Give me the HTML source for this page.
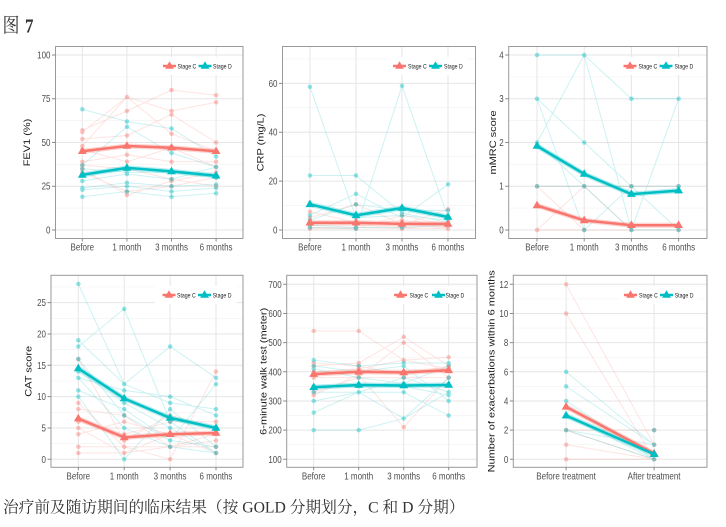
<!DOCTYPE html>
<html><head><meta charset="utf-8"><style>
html,body{margin:0;padding:0;background:#fff;}
svg{display:block;}
.tk{font-family:"Liberation Sans",sans-serif;font-size:10px;fill:#4d4d4d;}
.at{font-family:"Liberation Sans",sans-serif;font-size:11px;fill:#1a1a1a;}
.lg{font-family:"Liberation Sans",sans-serif;font-size:6.5px;fill:#222;}
.gM{stroke:#e6e6e6;stroke-width:1;fill:none;}
.gm{stroke:#f2f2f2;stroke-width:0.6;fill:none;}
.bd{fill:none;stroke:#9a9a9a;stroke-width:1;}
.tkl{stroke:#8a8a8a;stroke-width:1;}
.lc{fill:none;stroke:#F8766D;stroke-opacity:0.2;stroke-width:1;vector-effect:non-scaling-stroke;}
.ld{fill:none;stroke:#00BFC4;stroke-opacity:0.2;stroke-width:1;vector-effect:non-scaling-stroke;}
.pc{fill:none;stroke:#F8766D;stroke-opacity:0.42;stroke-width:4.5;stroke-linecap:round;vector-effect:non-scaling-stroke;}
.pd{fill:none;stroke:#00BFC4;stroke-opacity:0.42;stroke-width:4.5;stroke-linecap:round;vector-effect:non-scaling-stroke;}
.mc{fill:none;stroke:#F8766D;stroke-width:2.5;marker-start:url(#tc);marker-mid:url(#tc);marker-end:url(#tc);}
.md{fill:none;stroke:#00BFC4;stroke-width:2.5;marker-start:url(#td);marker-mid:url(#td);marker-end:url(#td);}
.hc{fill:none;stroke:#F8766D;stroke-opacity:0.3;stroke-width:5;}
.hd{fill:none;stroke:#00BFC4;stroke-opacity:0.3;stroke-width:5;}
.kc{fill:none;stroke:#F8766D;stroke-width:2.5;marker-mid:url(#tc);}
.kd{fill:none;stroke:#00BFC4;stroke-width:2.5;marker-mid:url(#td);}
</style></head><body>
<svg width="726" height="527" viewBox="0 0 726 527" xmlns="http://www.w3.org/2000/svg">
<defs>
<marker id="tc" viewBox="-6 -6 12 12" markerWidth="12" markerHeight="12" refX="0" refY="0" markerUnits="userSpaceOnUse" overflow="visible"><path d="M0,-4.8L4.4,2.8L-4.4,2.8Z" fill="#F8766D"/></marker>
<marker id="td" viewBox="-6 -6 12 12" markerWidth="12" markerHeight="12" refX="0" refY="0" markerUnits="userSpaceOnUse" overflow="visible"><path d="M0,-4.8L4.4,2.8L-4.4,2.8Z" fill="#00BFC4"/></marker>
</defs>
<rect width="726" height="527" fill="#fff"/>

<!-- Title -->
<text transform="translate(2.5,32) scale(0.85,1)" font-family="'Noto Serif CJK SC','Noto Sans CJK SC',serif" font-size="20" fill="#333">图</text>
<text transform="translate(25,32.5) scale(0.85,1)" font-family="'Liberation Serif',serif" font-weight="bold" font-size="20" fill="#333">7</text>

<!-- ============ PANEL 1 FEV1 ============ -->
<g>
<path class="gm" d="M55.5 208.1H243M55.5 164.4H243M55.5 120.6H243M55.5 76.9H243"/>
<path class="gM" d="M55.5 230H243M55.5 186.25H243M55.5 142.5H243M55.5 98.75H243M55.5 55H243M82.3 46.5V238.5M126.9 46.5V238.5M171.5 46.5V238.5M216.1 46.5V238.5"/>
<g transform="matrix(44.6,0,0,-1.75,82.3,230)">
<path class="lc" d="M0 56L1 76L2 68L3 73M0 57L1 68L2 80L3 77M0 52L1 54L2 66L3 50M0 48L1 76L2 55L3 45M0 39L1 43L2 39L3 39M0 46L1 39L2 47L3 36M0 37L1 35L2 29L3 25M0 33L1 22L2 25L3 30M0 35L1 20L2 28L3 33"/>
<path class="pc" d="M0 56h0.001M1 76h0.001M2 68h0.001M3 73h0.001M0 57h0.001M1 68h0.001M2 80h0.001M3 77h0.001M0 52h0.001M1 54h0.001M2 66h0.001M3 50h0.001M0 48h0.001M2 55h0.001M3 45h0.001M0 39h0.001M1 43h0.001M2 39h0.001M3 39h0.001M0 46h0.001M1 39h0.001M2 47h0.001M3 36h0.001M0 37h0.001M1 35h0.001M2 29h0.001M3 25h0.001M0 33h0.001M1 22h0.001M2 25h0.001M3 30h0.001M0 35h0.001M1 20h0.001M2 28h0.001M3 33h0.001"/>
<path class="ld" d="M0 69L1 62L2 58L3 42M0 37L1 59L2 44L3 36M0 35L1 33L2 33L3 30M0 28L1 32L2 29L3 36M0 24L1 27L2 25L3 26M0 23L1 25L2 22L3 24M0 19L1 22L2 19L3 21"/>
<path class="pd" d="M0 69h0.001M1 62h0.001M2 58h0.001M3 42h0.001M0 37h0.001M1 59h0.001M2 44h0.001M3 36h0.001M0 35h0.001M1 33h0.001M2 33h0.001M3 30h0.001M0 28h0.001M1 32h0.001M2 29h0.001M0 24h0.001M1 27h0.001M2 25h0.001M3 26h0.001M0 23h0.001M1 25h0.001M2 22h0.001M3 24h0.001M0 19h0.001M1 22h0.001M2 19h0.001M3 21h0.001"/>
</g>
<polyline class="hd" points="82.3,174.9 126.9,167.9 171.5,171.4 216.1,175.75"/>
<polyline class="hc" points="82.3,151.25 126.9,146 171.5,147.75 216.1,151.25"/>
<polyline class="mc" points="82.3,151.25 126.9,146 171.5,147.75 216.1,151.25"/>
<polyline class="md" points="82.3,174.9 126.9,167.9 171.5,171.4 216.1,175.75"/>
<rect x="158" y="57" width="78" height="18" fill="#fff"/>
<polyline class="kc" points="163,66 169.5,66 176,66"/>
<polyline class="kd" points="198.5,66 205,66 211.5,66"/>
<rect class="bd" x="55.5" y="46.5" width="187.5" height="192"/>
<path class="tkl" d="M52 230H55.5M52 186.25H55.5M52 142.5H55.5M52 98.75H55.5M52 55H55.5M82.3 238.5V241.5M126.9 238.5V241.5M171.5 238.5V241.5M216.1 238.5V241.5"/>
</g>

<!-- ============ PANEL 2 CRP ============ -->
<g>
<path class="gm" d="M282.5 205.6H475.5M282.5 156.7H475.5M282.5 107.8H475.5M282.5 58.9H475.5"/>
<path class="gM" d="M282.5 230H475.5M282.5 181.1H475.5M282.5 132.2H475.5M282.5 83.4H475.5M309.9 46.5V238.5M356 46.5V238.5M402 46.5V238.5M448 46.5V238.5"/>
<g transform="matrix(46.05,0,0,-2.444,309.9,230)">
<path class="lc" d="M0 7.5L1 3L2 2L3 8.5M0 5L1 10.5L2 2.5L3 1M0 2L1 2L2 1L3 0.5M0 1L1 1L2 0.5L3 1M0 0.5L1 0.5L2 6L3 2M0 3L1 2L2 4L3 2"/>
<path class="pc" d="M0 7.5h0.001M1 3h0.001M2 2h0.001M3 8.5h0.001M0 5h0.001M1 10.5h0.001M2 2.5h0.001M3 1h0.001M0 2h0.001M1 2h0.001M2 1h0.001M3 0.5h0.001M0 1h0.001M1 1h0.001M2 0.5h0.001M0 0.5h0.001M1 0.5h0.001M2 6h0.001M3 2h0.001M0 3h0.001M2 4h0.001"/>
<path class="ld" d="M0 58.6L1 5L2 6L3 4M0 1L1 0.5L2 59L3 5M0 22.3L1 22.3L2 7L3 3M0 6L1 14.8L2 5L3 18.7M0 4L1 10.5L2 8L3 8M0 2L1 1L2 1L3 2"/>
<path class="pd" d="M0 58.6h0.001M1 5h0.001M2 6h0.001M3 4h0.001M0 1h0.001M1 0.5h0.001M2 59h0.001M3 5h0.001M0 22.3h0.001M1 22.3h0.001M2 7h0.001M3 3h0.001M0 6h0.001M1 14.8h0.001M3 18.7h0.001M0 4h0.001M1 10.5h0.001M2 8h0.001M3 8h0.001M0 2h0.001M1 1h0.001M2 1h0.001M3 2h0.001"/>
</g>
<polyline class="hd" points="309.9,204.3 356,215.3 402,208 448,217"/>
<polyline class="hc" points="309.9,222.7 356,222.7 402,223.9 448,223.9"/>
<polyline class="mc" points="309.9,222.7 356,222.7 402,223.9 448,223.9"/>
<polyline class="md" points="309.9,204.3 356,215.3 402,208 448,217"/>
<rect x="388" y="57" width="79" height="18" fill="#fff"/>
<polyline class="kc" points="393,66 399.5,66 406,66"/>
<polyline class="kd" points="429,66 435.5,66 442,66"/>
<rect class="bd" x="282.5" y="46.5" width="193" height="192"/>
<path class="tkl" d="M279 230H282.5M279 181.1H282.5M279 132.2H282.5M279 83.4H282.5M309.9 238.5V241.5M356 238.5V241.5M402 238.5V241.5M448 238.5V241.5"/>
</g>

<!-- ============ PANEL 3 mMRC ============ -->
<g>
<path class="gm" d="M508.7 208.1H707M508.7 164.4H707M508.7 120.6H707M508.7 76.9H707"/>
<path class="gM" d="M508.7 230H707M508.7 186.25H707M508.7 142.5H707M508.7 98.75H707M508.7 55H707M537 46.5V238.5M584.2 46.5V238.5M631.4 46.5V238.5M678.6 46.5V238.5"/>
<g transform="matrix(47.2,0,0,-43.75,537,230)">
<path class="lc" d="M0 1L1 0L2 0L3 0M0 1L1 1L2 0L3 0M0 0L1 1L2 1L3 1M0 0L1 0L2 0L3 0"/>
<path class="pc" d="M0 1h0.001M1 0h0.001M2 0h0.001M3 0h0.001M1 1h0.001M0 0h0.001M2 1h0.001M3 1h0.001"/>
<path class="ld" d="M0 4L1 4L2 3L3 3M0 3L1 2L2 1L3 0M0 3L1 0L2 1L3 1M0 2L1 1L2 1L3 1M0 2L1 4L2 0L3 0M0 1L1 1L2 0L3 3"/>
<path class="pd" d="M0 4h0.001M1 4h0.001M2 3h0.001M3 3h0.001M0 3h0.001M1 2h0.001M2 1h0.001M3 0h0.001M1 0h0.001M3 1h0.001M0 2h0.001M1 1h0.001M2 0h0.001M0 1h0.001"/>
</g>
<polyline class="hd" points="537,146 584.2,174 631.4,194.1 678.6,190.6"/>
<polyline class="hc" points="537,205.5 584.2,220.4 631.4,225.2 678.6,225.2"/>
<polyline class="mc" points="537,205.5 584.2,220.4 631.4,225.2 678.6,225.2"/>
<polyline class="md" points="537,146 584.2,174 631.4,194.1 678.6,190.6"/>
<rect x="618.5" y="57" width="78.5" height="18" fill="#fff"/>
<polyline class="kc" points="623.5,66 630,66 636.5,66"/>
<polyline class="kd" points="659.5,66 666,66 672.5,66"/>
<rect class="bd" x="508.7" y="46.5" width="198.3" height="192"/>
<path class="tkl" d="M505.2 230H508.7M505.2 186.25H508.7M505.2 142.5H508.7M505.2 98.75H508.7M505.2 55H508.7M537 238.5V241.5M584.2 238.5V241.5M631.4 238.5V241.5M678.6 238.5V241.5"/>
</g>

<!-- ============ PANEL 4 CAT ============ -->
<g>
<path class="gm" d="M51 443.6H243M51 412.3H243M51 381H243M51 349.6H243M51 318.3H243M51 287H243"/>
<path class="gM" d="M51 459.3H243M51 428H243M51 396.6H243M51 365.3H243M51 334H243M51 302.6H243M78.3 275.3V467.3M124.2 275.3V467.3M170.1 275.3V467.3M216 275.3V467.3"/>
<g transform="matrix(45.9,0,0,-6.267,78.3,459.3)">
<path class="lc" d="M0 9L1 2L2 0L3 14M0 8L1 7L2 2L3 3M0 6L1 4L2 6L3 6M0 5L1 1L2 2L3 4M0 4L1 6L2 4L3 1M0 2L1 2L2 2L3 2M0 1L1 1L2 4L3 1M0 16L1 3L2 7L3 5"/>
<path class="pc" d="M0 9h0.001M1 2h0.001M2 0h0.001M3 14h0.001M0 8h0.001M1 7h0.001M2 2h0.001M3 3h0.001M0 6h0.001M1 4h0.001M2 6h0.001M3 6h0.001M0 5h0.001M1 1h0.001M3 4h0.001M0 4h0.001M1 6h0.001M2 4h0.001M3 1h0.001M0 2h0.001M3 2h0.001M0 1h0.001M0 16h0.001M1 3h0.001M2 7h0.001M3 5h0.001"/>
<path class="ld" d="M0 28L1 12L2 9L3 8M0 18L1 24L2 6L3 1M0 19L1 12L2 18L3 13M0 13L1 11L2 10L3 7M0 11L1 8L2 3L3 12M0 10L1 0L2 8L3 2M0 16L1 7L2 3L3 2M0 14L1 9L2 5L3 1M0 13L1 5L2 2L3 1"/>
<path class="pd" d="M0 28h0.001M1 12h0.001M2 9h0.001M3 8h0.001M0 18h0.001M1 24h0.001M2 6h0.001M3 1h0.001M0 19h0.001M2 18h0.001M3 13h0.001M0 13h0.001M1 11h0.001M2 10h0.001M3 7h0.001M0 11h0.001M1 8h0.001M2 3h0.001M3 12h0.001M0 10h0.001M1 0h0.001M2 8h0.001M3 2h0.001M0 16h0.001M1 7h0.001M0 14h0.001M1 9h0.001M2 5h0.001M1 5h0.001M2 2h0.001"/>
</g>
<polyline class="hd" points="78.3,368.4 124.2,398.5 170.1,417.9 216,428"/>
<polyline class="hc" points="78.3,418.6 124.2,437.4 170.1,434.2 216,433"/>
<polyline class="mc" points="78.3,418.6 124.2,437.4 170.1,434.2 216,433"/>
<polyline class="md" points="78.3,368.4 124.2,398.5 170.1,417.9 216,428"/>
<rect x="155" y="286" width="81.5" height="18" fill="#fff"/>
<polyline class="kc" points="162.5,295 169,295 175.5,295"/>
<polyline class="kd" points="198,295 204.5,295 211,295"/>
<rect class="bd" x="51" y="275.3" width="192" height="192"/>
<path class="tkl" d="M47.5 459.3H51M47.5 428H51M47.5 396.6H51M47.5 365.3H51M47.5 334H51M47.5 302.6H51M78.3 467.3V470.3M124.2 467.3V470.3M170.1 467.3V470.3M216 467.3V470.3"/>
</g>

<!-- ============ PANEL 5 6MWT ============ -->
<g>
<path class="gm" d="M286.7 444.7H477M286.7 415.6H477M286.7 386.4H477M286.7 357.2H477M286.7 328.1H477M286.7 298.9H477"/>
<path class="gM" d="M286.7 459.3H477M286.7 430.1H477M286.7 401H477M286.7 371.8H477M286.7 342.6H477M286.7 313.5H477M286.7 284.3H477M313.7 275.3V467.3M358.7 275.3V467.3M403.7 275.3V467.3M448.7 275.3V467.3"/>
<g transform="matrix(45,0,0,-0.29167,313.7,488.47)">
<path class="lc" d="M0 540L1 540L2 440L3 450M0 420L1 430L2 520L3 420M0 380L1 380L2 500L3 380M0 320L1 390L2 210L3 380M0 400L1 410L2 440L3 410M0 330L1 380L2 380L3 380M0 430L1 420L2 390L3 420"/>
<path class="pc" d="M0 540h0.001M1 540h0.001M2 440h0.001M3 450h0.001M0 420h0.001M1 430h0.001M2 520h0.001M3 420h0.001M0 380h0.001M1 380h0.001M2 500h0.001M3 380h0.001M0 320h0.001M1 390h0.001M2 210h0.001M0 400h0.001M1 410h0.001M3 410h0.001M0 330h0.001M2 380h0.001M0 430h0.001M1 420h0.001M2 390h0.001"/>
<path class="ld" d="M0 440L1 420L2 430L3 430M0 420L1 400L2 420L3 300M0 300L1 330L2 330L3 250M0 260L1 330L2 240L3 380M0 200L1 200L2 240L3 330M0 350L1 350L2 350L3 320M0 330L1 330L2 380L3 330M0 410L1 380L2 360L3 420"/>
<path class="pd" d="M0 440h0.001M1 420h0.001M2 430h0.001M3 430h0.001M0 420h0.001M1 400h0.001M2 420h0.001M3 300h0.001M0 300h0.001M1 330h0.001M2 330h0.001M3 250h0.001M0 260h0.001M2 240h0.001M3 380h0.001M0 200h0.001M1 200h0.001M3 330h0.001M0 350h0.001M1 350h0.001M2 350h0.001M3 320h0.001M0 330h0.001M2 380h0.001M0 410h0.001M1 380h0.001M2 360h0.001M3 420h0.001"/>
</g>
<polyline class="hd" points="313.7,387.3 358.7,385 403.7,385.5 448.7,385"/>
<polyline class="hc" points="313.7,374.1 358.7,371.8 403.7,372.4 448.7,370.3"/>
<polyline class="mc" points="313.7,374.1 358.7,371.8 403.7,372.4 448.7,370.3"/>
<polyline class="md" points="313.7,387.3 358.7,385 403.7,385.5 448.7,385"/>
<rect x="389" y="286" width="79" height="18" fill="#fff"/>
<polyline class="kc" points="394,295 400.5,295 407,295"/>
<polyline class="kd" points="432,295 438.5,295 445,295"/>
<rect class="bd" x="286.7" y="275.3" width="190.3" height="192"/>
<path class="tkl" d="M283.2 459.3H286.7M283.2 430.1H286.7M283.2 401H286.7M283.2 371.8H286.7M283.2 342.6H286.7M283.2 313.5H286.7M283.2 284.3H286.7M313.7 467.3V470.3M358.7 467.3V470.3M403.7 467.3V470.3M448.7 467.3V470.3"/>
</g>

<!-- ============ PANEL 6 Exacerbations ============ -->
<g>
<path class="gm" d="M513.3 444.7H707M513.3 415.5H707M513.3 386.4H707M513.3 357.2H707M513.3 328.1H707M513.3 298.9H707"/>
<path class="gM" d="M513.3 459.3H707M513.3 430.1H707M513.3 401H707M513.3 371.8H707M513.3 342.6H707M513.3 313.5H707M513.3 284.3H707M566.1 275.3V467.3M654.1 275.3V467.3"/>
<g transform="matrix(88,0,0,-14.583,566.1,459.3)">
<path class="lc" d="M0 12L1 1M0 10L1 0M0 2L1 2M0 1L1 0M0 0L1 0M0 2L1 0"/>
<path class="pc" d="M0 12h0.001M1 1h0.001M0 10h0.001M1 0h0.001M0 2h0.001M1 2h0.001M0 1h0.001M0 0h0.001"/>
<path class="ld" d="M0 6L1 1M0 5L1 1M0 4L1 0M0 2L1 0M0 2L1 1M0 3L1 0"/>
<path class="pd" d="M0 6h0.001M1 1h0.001M0 5h0.001M0 4h0.001M1 0h0.001M0 2h0.001M1 2h0.001M0 3h0.001"/>
</g>
<polyline class="hd" points="566.1,415.6 654.1,454.2"/>
<polyline class="hc" points="566.1,406.8 654.1,453.5"/>
<polyline class="mc" points="566.1,406.8 610.1,430.15 654.1,453.5" style="marker-mid:none"/>
<polyline class="md" points="566.1,415.6 610.1,434.9 654.1,454.2" style="marker-mid:none"/>
<rect x="619" y="286" width="79" height="18" fill="#fff"/>
<polyline class="kc" points="624,295 630.5,295 637,295"/>
<polyline class="kd" points="660,295 666.5,295 673,295"/>
<rect class="bd" x="513.3" y="275.3" width="193.7" height="192"/>
<path class="tkl" d="M509.8 459.3H513.3M509.8 430.1H513.3M509.8 401H513.3M509.8 371.8H513.3M509.8 342.6H513.3M509.8 313.5H513.3M509.8 284.3H513.3M566.1 467.3V470.3M654.1 467.3V470.3"/>
</g>

<!-- ============ Tick labels (compressed horizontally) ============ -->
<g transform="scale(0.8,1)" class="tk">
<g text-anchor="end">
<text x="63.1" y="233.5">0</text><text x="63.1" y="189.75">25</text><text x="63.1" y="146">50</text><text x="63.1" y="102.25">75</text><text x="63.1" y="58.5">100</text>
<text x="346.9" y="233.5">0</text><text x="346.9" y="184.6">20</text><text x="346.9" y="135.7">40</text><text x="346.9" y="86.9">60</text>
<text x="629.6" y="233.5">0</text><text x="629.6" y="189.75">1</text><text x="629.6" y="146">2</text><text x="629.6" y="102.25">3</text><text x="629.6" y="58.5">4</text>
<text x="57.5" y="462.8">0</text><text x="57.5" y="431.5">5</text><text x="57.5" y="400.1">10</text><text x="57.5" y="368.8">15</text><text x="57.5" y="337.5">20</text><text x="57.5" y="306.1">25</text>
<text x="352.1" y="462.8">100</text><text x="352.1" y="433.6">200</text><text x="352.1" y="404.5">300</text><text x="352.1" y="375.3">400</text><text x="352.1" y="346.1">500</text><text x="352.1" y="317">600</text><text x="352.1" y="287.8">700</text>
<text x="635.4" y="462.8">0</text><text x="635.4" y="433.6">2</text><text x="635.4" y="404.5">4</text><text x="635.4" y="375.3">6</text><text x="635.4" y="346.1">8</text><text x="635.4" y="317">10</text><text x="635.4" y="287.8">12</text>
</g>
<g text-anchor="middle">
<text x="102.9" y="250.5">Before</text><text x="158.6" y="250.5">1 month</text><text x="214.4" y="250.5">3 months</text><text x="270.1" y="250.5">6 months</text>
<text x="387.4" y="250.5">Before</text><text x="445" y="250.5">1 month</text><text x="502.5" y="250.5">3 months</text><text x="560" y="250.5">6 months</text>
<text x="671.3" y="250.5">Before</text><text x="730.3" y="250.5">1 month</text><text x="789.3" y="250.5">3 months</text><text x="848.3" y="250.5">6 months</text>
<text x="97.9" y="479.5">Before</text><text x="155.3" y="479.5">1 month</text><text x="212.6" y="479.5">3 months</text><text x="270" y="479.5">6 months</text>
<text x="392.1" y="479.5">Before</text><text x="448.4" y="479.5">1 month</text><text x="504.6" y="479.5">3 months</text><text x="560.9" y="479.5">6 months</text>
<text x="707.6" y="479.5">Before treatment</text><text x="817.6" y="479.5">After treatment</text>
</g>
</g>

<!-- Legend labels -->
<g transform="scale(0.8,1)" class="lg">
<text x="221.9" y="68.3">Stage C</text><text x="266.25" y="68.3">Stage D</text>
<text x="510" y="68.3">Stage C</text><text x="555" y="68.3">Stage D</text>
<text x="798.1" y="68.3">Stage C</text><text x="843.1" y="68.3">Stage D</text>
<text x="221.25" y="297.3">Stage C</text><text x="265.9" y="297.3">Stage D</text>
<text x="511.9" y="297.3">Stage C</text><text x="556.9" y="297.3">Stage D</text>
<text x="798.75" y="297.3">Stage C</text><text x="843.4" y="297.3">Stage D</text>
</g>

<!-- Axis titles -->
<g class="at" text-anchor="middle">
<text transform="translate(30,142.5) scale(0.8,1) rotate(-90)">FEV1 (%)</text>
<text transform="translate(263.5,142.5) scale(0.8,1) rotate(-90)">CRP (mg/L)</text>
<text transform="translate(496,142.5) scale(0.8,1) rotate(-90)">mMRC score</text>
<text transform="translate(31.5,371.3) scale(0.8,1) rotate(-90)">CAT score</text>
<text transform="translate(266.5,371.3) scale(0.8,1) rotate(-90)">6-minute walk test (meter)</text>
<text transform="translate(494.5,371.3) scale(0.8,1) rotate(-90)">Number of exacerbations within 6 months</text>
</g>

<!-- Caption -->
<text x="3" y="512.5" font-family="'Liberation Serif','Noto Serif CJK SC',serif" font-size="15.7" fill="#333">治疗前及随访期间的临床结果（按 GOLD 分期划分，C 和 D 分期）</text>
</svg>
</body></html>
